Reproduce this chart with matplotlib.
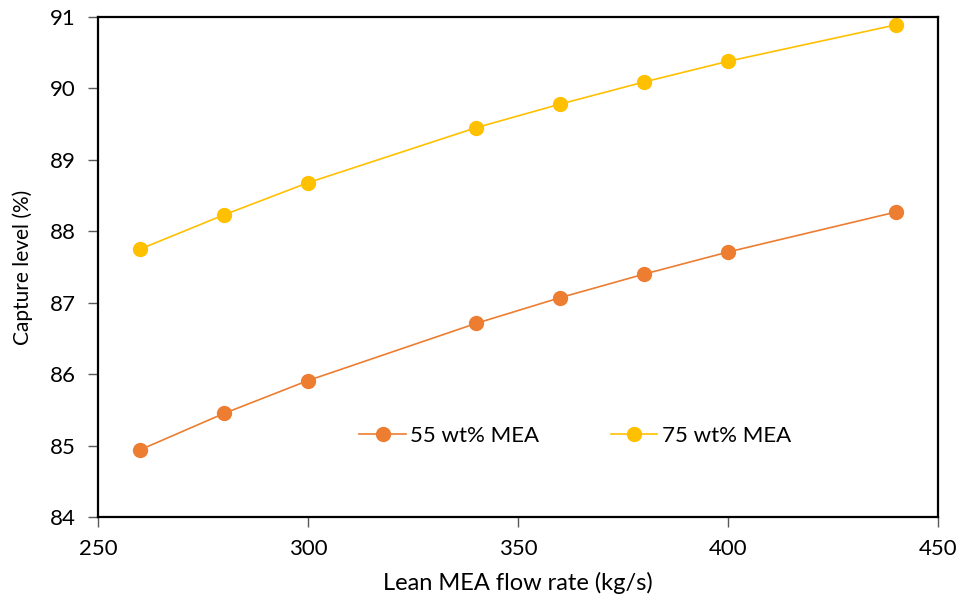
import matplotlib
matplotlib.use("Agg")
import matplotlib.pyplot as plt

plt.rcParams['font.family'] = ['Lato', 'DejaVu Sans']

# caudal de MEA pobre (kg/s) y nivel de captura (%)
flow = [260, 280, 300, 340, 360, 380, 400, 440]
cap_55 = [84.94, 85.45, 85.91, 86.71, 87.07, 87.40, 87.71, 88.27]
cap_75 = [87.75, 88.23, 88.68, 89.45, 89.78, 90.09, 90.38, 90.89]
labels = ["55 wt% MEA", "75 wt% MEA"]
colors = ["#ED7D31", "#FFC000"]

fig = plt.figure(figsize=(9.61, 6.0), dpi=100)
ax = fig.add_axes([98 / 961, 1 - 517 / 600, 840 / 961, 500 / 600])

for y, lab, c in zip([cap_55, cap_75], labels, colors):
    ax.plot(flow, y, "-o", color=c, lw=1.2, ms=10, label=lab)

ax.set_xlim(250, 450)
ax.set_ylim(84, 91)
ax.set_xticks([250, 300, 350, 400, 450])
ax.set_yticks(range(84, 92))
for s in ax.spines.values():
    s.set_linewidth(1.6)
ax.tick_params(direction="out", length=7, width=1, color="#595959", labelsize=16, pad=9)
ax.set_xlabel("Lean MEA flow rate (kg/s)", fontsize=17, labelpad=9)
ax.set_ylabel("Capture level (%)", fontsize=15, labelpad=12)

ax.legend(loc="center", bbox_to_anchor=(0.568, 0.162), ncol=2, frameon=False,
          fontsize=16, handlelength=2.1, columnspacing=3.2, handletextpad=0.2)

fig.savefig("out.png", dpi=100)
